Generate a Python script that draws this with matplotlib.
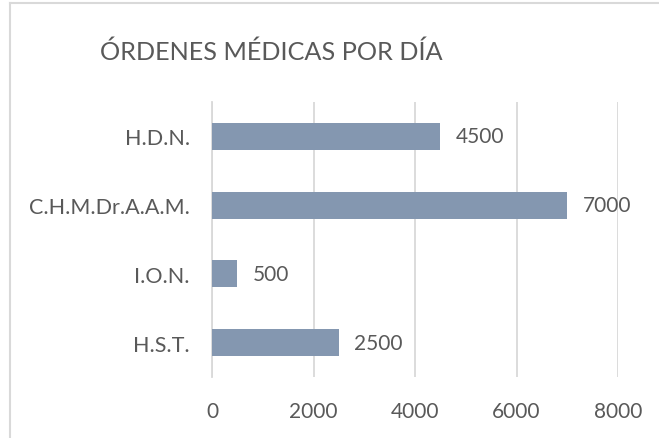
import matplotlib
matplotlib.use("Agg")
import matplotlib.pyplot as plt
from matplotlib.lines import Line2D

categories = ["H.S.T.", "I.O.N.", "C.H.M.Dr.A.A.M.", "H.D.N."]
values = [2500, 500, 7000, 4500]
xticks = [0, 2000, 4000, 6000, 8000]
title = "ÓRDENES MÉDICAS POR DÍA"

TXT = "#595959"
BAR = "#8497B0"
GRID = "#D9D9D9"
FONT = ["Lato", "DejaVu Sans"]

W, H = 659, 439
fig = plt.figure(figsize=(W / 100, H / 100), dpi=100)
ax = fig.add_axes([212 / W, 1 - 378 / H, (618 - 212) / W, (378 - 103) / H])

ypos = list(range(len(categories)))
ax.barh(ypos, values, height=0.39, color=BAR, zorder=3)
ax.set_xlim(0, 8000)
ax.set_ylim(-0.5, len(categories) - 0.5)
ax.set_xticks(xticks)
ax.set_xticklabels([str(t) for t in xticks], fontsize=15, color=TXT, family=FONT)
ax.set_yticks(ypos)
ax.set_yticklabels(categories, fontsize=15.5, color=TXT, family=FONT)
ax.tick_params(axis="x", length=0, pad=17)
ax.tick_params(axis="y", length=0, pad=16)
ax.grid(axis="x", color=GRID, linewidth=1.3, zorder=0)
ax.grid(axis="y", visible=False)
for s in ["top", "right", "bottom"]:
    ax.spines[s].set_visible(False)
ax.spines["left"].set_color(GRID)
ax.spines["left"].set_linewidth(1.3)

for y, v in zip(ypos, values):
    ax.annotate(str(v), (v, y), xytext=(11, 0), textcoords="offset points",
                va="center", ha="left", fontsize=15, color=TXT, family=FONT)

fig.text(271 / W, 1 - 52 / H, title, ha="center", va="center",
         fontsize=18.2, color=TXT, family=FONT)

fig.add_artist(Line2D([10 / W, 10 / W], [0, 1 - 4 / H], color=GRID, linewidth=1.5,
                      transform=fig.transFigure))
fig.add_artist(Line2D([10 / W, 1], [1 - 4 / H, 1 - 4 / H], color=GRID, linewidth=1.5,
                      transform=fig.transFigure))

fig.savefig("out.png", dpi=100)
